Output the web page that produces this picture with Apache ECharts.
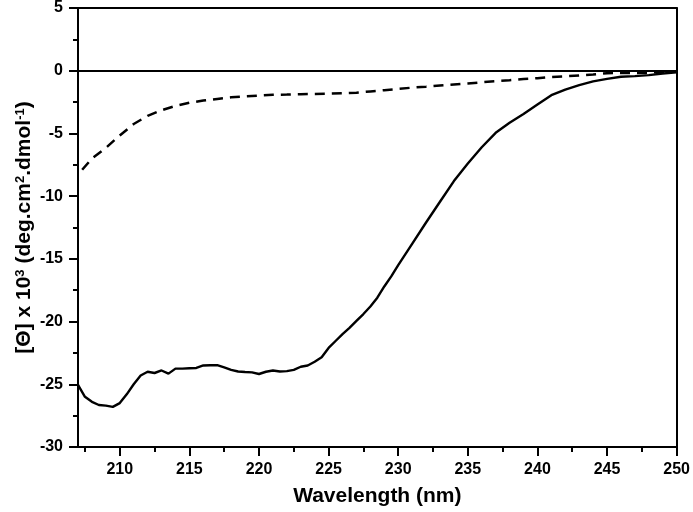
<!DOCTYPE html>
<html>
<head>
<meta charset="utf-8">
<script src="https://cdn.jsdelivr.net/npm/echarts@6/dist/echarts.min.js"></script>
<style>html,body{margin:0;padding:0;background:#fff}#c{width:693px;height:512px}</style>
</head>
<body>
<div id="c"></div>
<script>
// Solid curve
const solidX = [207,207.5,208,208.5,209,209.5,210,210.5,211,211.5,212,212.5,213,213.5,214,214.5,215,215.5,216,216.5,217,217.5,218,218.5,219,219.5,220,220.5,221,221.5,222,222.5,223,223.5,224,224.5,225,225.5,226,226.5,227,227.5,228,228.5,229,229.5,230,231,232,233,234,235,236,237,238,239,240,241,242,243,244,245,246,247,248,249,250];
const solidY = [-25.05,-26.0,-26.4,-26.65,-26.7,-26.8,-26.5,-25.8,-25.0,-24.3,-24.0,-24.1,-23.9,-24.15,-23.75,-23.75,-23.72,-23.7,-23.5,-23.48,-23.47,-23.65,-23.85,-23.98,-24.02,-24.05,-24.18,-24.0,-23.9,-23.98,-23.95,-23.85,-23.6,-23.5,-23.2,-22.85,-22.1,-21.55,-21.0,-20.5,-19.95,-19.4,-18.8,-18.1,-17.2,-16.4,-15.5,-13.8,-12.1,-10.45,-8.8,-7.4,-6.1,-4.95,-4.15,-3.45,-2.7,-1.95,-1.5,-1.15,-0.85,-0.65,-0.48,-0.43,-0.35,-0.22,-0.13];
// Dashed curve
const dashX = [207.3,208,209,210,211,212,213,214,215,216,217,218,219,220,221,222,223,224,225,226,227,228,229,230,231,232,233,234,235,236,237,238,239,240,241,242,243,244,245,246,247,248,249,250];
const dashY = [-7.9,-7.0,-6.15,-5.16,-4.25,-3.6,-3.15,-2.8,-2.55,-2.38,-2.25,-2.12,-2.05,-1.98,-1.92,-1.9,-1.87,-1.85,-1.83,-1.8,-1.75,-1.65,-1.55,-1.45,-1.35,-1.27,-1.18,-1.1,-1.02,-0.92,-0.84,-0.76,-0.66,-0.6,-0.5,-0.45,-0.38,-0.3,-0.2,-0.18,-0.18,-0.15,-0.1,-0.08];
// Axis ticks
const xMajorTicks = [210,215,220,225,230,235,240,245,250];
const xMinorTicks = [207.5,212.5,217.5,222.5,227.5,232.5,237.5,242.5,247.5];

const FONT = '"Liberation Sans", Arial, sans-serif';
const chart = echarts.init(document.getElementById('c'));
const black = '#000';
chart.setOption({
  animation: false,
  backgroundColor: '#fff',
  grid: {left: 78, right: 14, top: 7, bottom: 64, containLabel: false},
  xAxis: [
    {
      type: 'value', min: 207, max: 250, position: 'bottom',
      name: 'Wavelength (nm)', nameLocation: 'middle', nameGap: 39, nameMoveOverlap: false,
      nameTextStyle: {fontFamily: FONT, fontSize: 21, fontWeight: 'bold', color: black},
      axisLine: {show: true, onZero: false, lineStyle: {color: black, width: 2}},
      axisTick: {show: true, customValues: xMajorTicks, length: 9, lineStyle: {color: black, width: 2}},
      axisLabel: {show: true, customValues: xMajorTicks, margin: 15, fontFamily: FONT, fontSize: 16, fontWeight: 'bold', color: black},
      splitLine: {show: false}
    },
    {
      type: 'value', min: 207, max: 250, position: 'bottom',
      axisLine: {show: false, onZero: false},
      axisTick: {show: true, customValues: xMinorTicks, length: 5, lineStyle: {color: black, width: 2}},
      axisLabel: {show: false},
      splitLine: {show: false}
    },
    {
      type: 'value', min: 207, max: 250, position: 'top',
      axisLine: {show: true, onZero: false, lineStyle: {color: black, width: 2}},
      axisTick: {show: false}, axisLabel: {show: false}, splitLine: {show: false}
    }
  ],
  yAxis: [
    {
      type: 'value', min: -30, max: 5, interval: 5, position: 'left',
      name: '{b|[Θ] x 10}{s|3}{b| (deg.cm}{s|2}{b|.dmol}{s|-1}{b|)}',
      nameLocation: 'middle', nameGap: 43, nameRotate: 90, nameMoveOverlap: false,
      nameTextStyle: {
        fontFamily: FONT, fontSize: 21, fontWeight: 'bold', color: black,
        rich: {
          b: {fontFamily: FONT, fontSize: 21, fontWeight: 'bold', color: black},
          s: {fontFamily: FONT, fontSize: 13, fontWeight: 'bold', color: black, verticalAlign: 'top'}
        }
      },
      axisLine: {show: true, onZero: false, lineStyle: {color: black, width: 2}},
      axisTick: {show: true, length: 9, lineStyle: {color: black, width: 2}},
      minorTick: {show: true, splitNumber: 2, length: 5, lineStyle: {color: black, width: 2}},
      axisLabel: {margin: 15, fontFamily: FONT, fontSize: 16, fontWeight: 'bold', color: black},
      splitLine: {show: false}, minorSplitLine: {show: false}
    },
    {
      type: 'value', min: -30, max: 5, interval: 5, position: 'right',
      axisLine: {show: true, onZero: false, lineStyle: {color: black, width: 2}},
      axisTick: {show: false}, axisLabel: {show: false}, splitLine: {show: false}
    }
  ],
  series: [
    {
      type: 'line', xAxisIndex: 0, yAxisIndex: 0,
      data: solidX.map((x, i) => [x, solidY[i]]),
      showSymbol: false, symbol: 'none', smooth: false,
      lineStyle: {color: black, width: 2.4, type: 'solid'},
      markLine: {
        silent: true, symbol: ['none', 'none'],
        label: {show: false},
        lineStyle: {color: black, width: 2, type: 'solid'},
        data: [{yAxis: 0}]
      }
    },
    {
      type: 'line', xAxisIndex: 0, yAxisIndex: 0,
      data: dashX.map((x, i) => [x, dashY[i]]),
      showSymbol: false, symbol: 'none', smooth: false,
      lineStyle: {color: black, width: 2.5, type: [10, 7]}
    }
  ]
});
</script>
</body>
</html>
